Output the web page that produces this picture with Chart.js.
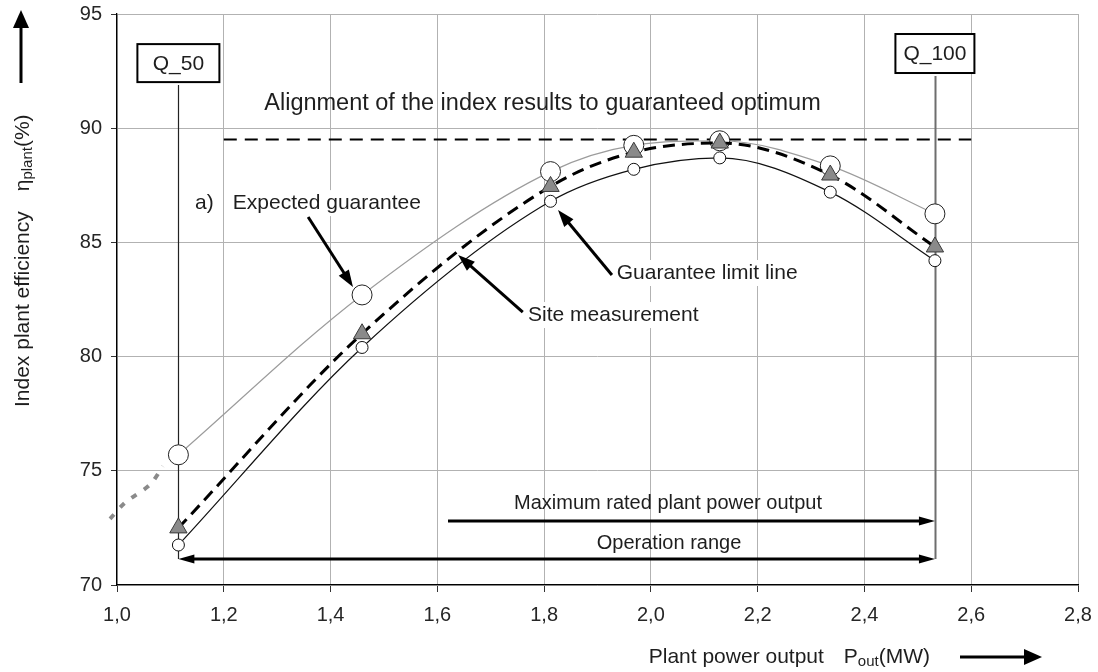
<!DOCTYPE html>
<html>
<head>
<meta charset="utf-8">
<title>Index plant efficiency</title>
<script src="https://cdn.jsdelivr.net/npm/chart.js@4.4.1/dist/chart.umd.min.js"></script>
<style>
  html, body { margin: 0; padding: 0; background: #fff; }
  #wrap { width: 1098px; height: 672px; }
</style>
</head>
<body>
<div id="wrap"><canvas id="effChart" width="1098" height="672"></canvas></div>
<script>
// plant power output (MW) for each measuring point
const powerOutput = [1.115, 1.459, 1.812, 1.968, 2.129, 2.336, 2.532];
// index plant efficiency (%)
const expectedGuarantee = [75.7, 82.7, 88.1, 89.25, 89.45, 88.35, 86.25];
const guaranteeLimit = [71.75, 80.4, 86.8, 88.2, 88.7, 87.2, 84.2];
const siteMeasurement = [72.5, 81.0, 87.45, 88.95, 89.35, 87.95, 84.8];
// dotted continuation of the expected guarantee below Q_50
const extensionX = [0.987, 1.015, 1.062, 1.086];
const extensionY = [72.9, 73.6, 74.4, 75.2];
// guaranteed optimum level and its span
const optimumLevel = 89.5;
const optimumSpan = [1.2, 2.6];
// ranges shown with arrows
const operationRange = [1.115, 2.532];
const operationLevel = 71.14;
const ratedRange = [1.62, 2.532];
const ratedLevel = 72.8;

const xTicks = [1.0, 1.2, 1.4, 1.6, 1.8, 2.0, 2.2, 2.4, 2.6, 2.8];
const yTicks = [70, 75, 80, 85, 90, 95];

const FONT = "'Liberation Sans', Arial, Helvetica, sans-serif";
const INK = '#1e1e1e';

const toPoints = (xs, ys) => xs.map((x, i) => ({ x, y: ys[i] }));

const arrowHead = (ctx, fromX, fromY, tipX, tipY, len, half) => {
  const a = Math.atan2(tipY - fromY, tipX - fromX);
  const bx = tipX - len * Math.cos(a);
  const by = tipY - len * Math.sin(a);
  ctx.beginPath();
  ctx.moveTo(tipX, tipY);
  ctx.lineTo(bx + half * Math.sin(a), by - half * Math.cos(a));
  ctx.lineTo(bx - half * Math.sin(a), by + half * Math.cos(a));
  ctx.closePath();
  ctx.fill();
};

const drawArrow = (ctx, x1, y1, x2, y2, opts = {}) => {
  const { width = 3, len = 16, half = 5, both = false } = opts;
  const a = Math.atan2(y2 - y1, x2 - x1);
  const cut = len - 2;
  ctx.save();
  ctx.strokeStyle = '#000';
  ctx.fillStyle = '#000';
  ctx.lineWidth = width;
  ctx.beginPath();
  ctx.moveTo(both ? x1 + cut * Math.cos(a) : x1, both ? y1 + cut * Math.sin(a) : y1);
  ctx.lineTo(x2 - cut * Math.cos(a), y2 - cut * Math.sin(a));
  ctx.stroke();
  arrowHead(ctx, x1, y1, x2, y2, len, half);
  if (both) arrowHead(ctx, x2, y2, x1, y1, len, half);
  ctx.restore();
};

// text labels inside the plot, in data coordinates
const noteLabels = [
  { text: 'a)', x: 1.146, y: 86.72, size: 21, align: 'left', bg: true },
  { text: 'Expected guarantee', x: 1.217, y: 86.72, size: 21, align: 'left', bg: true },
  { text: 'Guarantee limit line', x: 1.936, y: 83.66, size: 21, align: 'left', bg: true },
  { text: 'Site measurement', x: 1.770, y: 81.82, size: 21, align: 'left', bg: true },
  { text: 'Alignment of the index results to guaranteed optimum', x: 1.797, y: 91.1, size: 23.5, align: 'center', bg: false },
  { text: 'Maximum rated plant power output', x: 2.032, y: 73.55, size: 20, align: 'center', bg: false },
  { text: 'Operation range', x: 2.034, y: 71.8, size: 20, align: 'center', bg: false },
];

const noteArrows = [
  { from: [1.358, 86.11], to: [1.442, 83.05] },
  { from: [1.927, 83.57], to: [1.826, 86.42] },
  { from: [1.760, 81.95], to: [1.639, 84.45] },
];

const qBoxes = [
  { text: 'Q_50', x: operationRange[0], y: 92.85, w: 82, h: 38, lineColor: '#222', lineWidth: 1.2 },
  { text: 'Q_100', x: operationRange[1], y: 93.27, w: 79, h: 39, lineColor: '#6e6e6e', lineWidth: 2 },
];

const annotations = {
  id: 'annotations',
  beforeDatasetsDraw(chart) {
    const { ctx } = chart;
    const sx = chart.scales.x;
    const sy = chart.scales.y;
    const opY = sy.getPixelForValue(operationLevel);

    // Q markers: vertical lines from the boxes down to the operation range
    qBoxes.forEach((q) => {
      const cx = Math.round(sx.getPixelForValue(q.x)) + 0.5;
      const bottom = sy.getPixelForValue(q.y) + q.h / 2;
      ctx.save();
      ctx.strokeStyle = q.lineColor;
      ctx.lineWidth = q.lineWidth;
      ctx.beginPath();
      ctx.moveTo(cx, bottom + 3);
      ctx.lineTo(cx, opY);
      ctx.stroke();
      ctx.restore();
    });

    drawArrow(ctx, sx.getPixelForValue(operationRange[0]), opY,
      sx.getPixelForValue(operationRange[1]), opY, { width: 3, len: 16, half: 4.5, both: true });
    const ratedY = sy.getPixelForValue(ratedLevel);
    drawArrow(ctx, sx.getPixelForValue(ratedRange[0]), ratedY,
      sx.getPixelForValue(ratedRange[1]), ratedY, { width: 3, len: 16, half: 4.5 });
  },
  afterDatasetsDraw(chart) {
    const { ctx } = chart;
    const sx = chart.scales.x;
    const sy = chart.scales.y;

    ctx.save();
    ctx.textBaseline = 'middle';
    noteLabels.forEach((n) => {
      const x = sx.getPixelForValue(n.x);
      const y = sy.getPixelForValue(n.y);
      ctx.font = `${n.size}px ${FONT}`;
      ctx.textAlign = n.align;
      if (n.bg) {
        const w = ctx.measureText(n.text).width;
        const left = n.align === 'center' ? x - w / 2 : x;
        ctx.fillStyle = '#fff';
        ctx.fillRect(left - 3, y - 13, w + 6, 26);
      }
      ctx.fillStyle = INK;
      ctx.fillText(n.text, x, y);
    });
    ctx.restore();

    noteArrows.forEach((a) => {
      drawArrow(ctx, sx.getPixelForValue(a.from[0]), sy.getPixelForValue(a.from[1]),
        sx.getPixelForValue(a.to[0]), sy.getPixelForValue(a.to[1]), { width: 3, len: 17, half: 6 });
    });

    qBoxes.forEach((q) => {
      const cx = sx.getPixelForValue(q.x);
      const cy = sy.getPixelForValue(q.y);
      ctx.save();
      ctx.fillStyle = '#fff';
      ctx.strokeStyle = '#000';
      ctx.lineWidth = 2;
      ctx.fillRect(cx - q.w / 2, cy - q.h / 2, q.w, q.h);
      ctx.strokeRect(cx - q.w / 2, cy - q.h / 2, q.w, q.h);
      ctx.font = `21px ${FONT}`;
      ctx.fillStyle = INK;
      ctx.textAlign = 'center';
      ctx.textBaseline = 'middle';
      ctx.fillText(q.text, cx, cy + 1);
      ctx.restore();
    });
  },
  afterDraw(chart) {
    const { ctx } = chart;
    const area = chart.chartArea;
    ctx.save();
    ctx.fillStyle = INK;
    ctx.textBaseline = 'middle';

    // y title, read bottom to top
    ctx.save();
    ctx.translate(23, 407);
    ctx.rotate(-Math.PI / 2);
    ctx.textAlign = 'left';
    ctx.font = `21px ${FONT}`;
    const yMain = 'Index plant efficiency';
    ctx.fillText(yMain, 0, 0);
    let cursor = ctx.measureText(yMain).width + 20;
    ctx.fillText('\u03b7', cursor, 0);
    cursor += ctx.measureText('\u03b7').width;
    ctx.font = `15px ${FONT}`;
    ctx.fillText('plant', cursor, 5);
    cursor += ctx.measureText('plant').width;
    ctx.font = `21px ${FONT}`;
    ctx.fillText('(%)', cursor, 0);
    ctx.restore();
    drawArrow(ctx, 21, 83, 21, 10, { width: 3, len: 18, half: 8 });

    // x title with subscript, right aligned against the arrow
    const baseY = 657;
    ctx.font = `21px ${FONT}`;
    ctx.textAlign = 'right';
    ctx.fillText('(MW)', 930, baseY);
    let right = 930 - ctx.measureText('(MW)').width;
    ctx.font = `15px ${FONT}`;
    ctx.fillText('out', right, baseY + 5);
    right -= ctx.measureText('out').width;
    ctx.font = `21px ${FONT}`;
    ctx.fillText('P', right, baseY);
    right -= ctx.measureText('P').width + 20;
    ctx.fillText('Plant power output', right, baseY);
    drawArrow(ctx, 960, baseY, area.right - 36, baseY, { width: 3, len: 18, half: 8 });
    ctx.restore();
  },
};

const ctx = document.getElementById('effChart').getContext('2d');
// eslint-disable-next-line no-undef
const chart = new Chart(ctx, {
  type: 'line',
  data: {
    datasets: [
      {
        label: 'Site measurement',
        data: toPoints(powerOutput, siteMeasurement),
        borderColor: '#000',
        borderWidth: 3,
        borderDash: [12, 7],
        cubicInterpolationMode: 'monotone',
        pointStyle: 'triangle',
        pointRadius: 10,
        pointBackgroundColor: '#8a8a8a',
        pointBorderColor: '#3a3a3a',
        pointBorderWidth: 1,
        order: 0,
      },
      {
        label: 'Guarantee limit line',
        data: toPoints(powerOutput, guaranteeLimit),
        borderColor: '#111',
        borderWidth: 1.2,
        cubicInterpolationMode: 'monotone',
        pointRadius: 6,
        pointBackgroundColor: '#fff',
        pointBorderColor: '#111',
        pointBorderWidth: 1,
        order: 1,
      },
      {
        label: 'Expected guarantee',
        data: toPoints(powerOutput, expectedGuarantee),
        borderColor: '#9c9c9c',
        borderWidth: 1.2,
        cubicInterpolationMode: 'monotone',
        pointRadius: 10,
        pointBackgroundColor: '#fff',
        pointBorderColor: '#222',
        pointBorderWidth: 1,
        order: 2,
      },
      {
        label: 'Expected guarantee (extension)',
        data: toPoints(extensionX, extensionY),
        borderColor: '#8a8a8a',
        borderWidth: 4,
        borderDash: [6, 9],
        tension: 0.3,
        pointRadius: 0,
        clip: false,
        order: 3,
      },
      {
        label: 'Guaranteed optimum',
        data: toPoints(optimumSpan, [optimumLevel, optimumLevel]),
        borderColor: '#000',
        borderWidth: 2,
        borderDash: [13, 8],
        pointRadius: 0,
        order: 4,
      },
    ],
  },
  options: {
    responsive: false,
    animation: false,
    devicePixelRatio: 1,
    layout: { padding: { top: 14, right: 20, left: 0, bottom: 0 } },
    plugins: {
      legend: { display: false },
      tooltip: { enabled: false },
    },
    scales: {
      x: {
        type: 'linear',
        min: 1.0,
        max: 2.8,
        afterBuildTicks: (scale) => { scale.ticks = xTicks.map((value) => ({ value })); },
        afterFit: (scale) => {
          scale.height = 87;
          scale.paddingLeft = 0;
          scale.paddingRight = 0;
        },
        grid: { color: '#b2b2b2', lineWidth: 1, tickLength: 7, tickColor: '#333' },
        border: { color: '#000', width: 1.3 },
        ticks: {
          color: '#262626',
          font: { family: FONT, size: 20 },
          padding: 11,
          maxRotation: 0,
          callback: (v) => Number(v).toFixed(1).replace('.', ','),
        },
      },
      y: {
        type: 'linear',
        min: 70,
        max: 95,
        afterBuildTicks: (scale) => { scale.ticks = yTicks.map((value) => ({ value })); },
        afterFit: (scale) => {
          scale.width = 117;
          scale.paddingTop = 0;
          scale.paddingBottom = 0;
        },
        grid: { color: '#b2b2b2', lineWidth: 1, tickLength: 6, tickColor: '#333' },
        border: { color: '#000', width: 1.3 },
        ticks: {
          color: '#262626',
          font: { family: FONT, size: 20 },
          padding: 9,
          callback: (v) => String(v),
        },
      },
    },
  },
  plugins: [annotations],
});
</script>
</body>
</html>
